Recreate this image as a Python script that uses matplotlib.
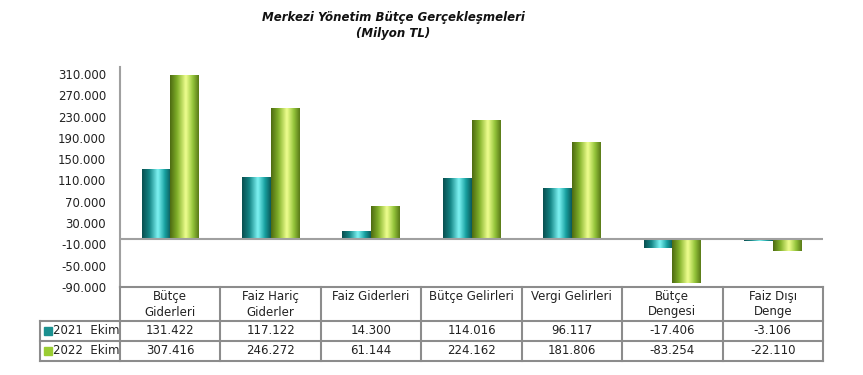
import matplotlib
matplotlib.use("Agg")
import matplotlib.pyplot as plt
import numpy as np
from matplotlib.colors import LinearSegmentedColormap

categories = ["Bütçe\nGiderleri", "Faiz Hariç\nGiderler", "Faiz Giderleri", "Bütçe Gelirleri",
              "Vergi Gelirleri", "Bütçe\nDengesi", "Faiz Dışı\nDenge"]
series_names = ["2021  Ekim", "2022  Ekim"]
values_2021 = [131422, 117122, 14300, 114016, 96117, -17406, -3106]
values_2022 = [307416, 246272, 61144, 224162, 181806, -83254, -22110]
ticks = [310000, 270000, 230000, 190000, 150000, 110000, 70000, 30000, -10000, -50000, -90000]

plt.rcParams['font.family'] = ['DejaVu Sans']

def fmt(v):
    s = f"{abs(v):,}".replace(",", ".")
    return ("-" if v < 0 else "") + s

fig = plt.figure(figsize=(8.63, 3.75), dpi=100)
L, R, B, T = 120/863, 823/863, 1 - 287/375, 1 - 67/375
ax = fig.add_axes([L, B, R - L, T - B])

n = len(categories)
x = np.arange(n)
w = 0.285
off = 0.143
base_cols = ["#1a8f8f", "#8cbf2a"]
cmaps = [
    LinearSegmentedColormap.from_list("t", [(0, "#0a4f50"), (0.25, "#138585"), (0.55, "#7ff4f4"), (0.8, "#17a0a0"), (1, "#0c5a5a")]),
    LinearSegmentedColormap.from_list("g", [(0, "#4e6b12"), (0.25, "#82b12a"), (0.55, "#f0ff90"), (0.8, "#93c43a"), (1, "#5a7a18")]),
]
ymin, ymax = -90000, 323000
grad = np.linspace(0, 1, 64).reshape(1, -1)
for si, vals in enumerate([values_2021, values_2022]):
    bars = ax.bar(x + (2*si - 1)*off, vals, width=w, color=base_cols[si], zorder=2, linewidth=0)
    for b in bars:
        x0, y0 = b.get_x(), b.get_y()
        bw, bh = b.get_width(), b.get_height()
        im = ax.imshow(grad, cmap=cmaps[si], aspect='auto', extent=[x0, x0 + bw, y0, y0 + bh],
                       zorder=3, interpolation='bicubic')
        im.set_clip_path(b)

ax.set_xlim(-0.5, n - 0.5)
ax.set_ylim(ymin, ymax)
ax.axhline(0, color="#a0a0a0", lw=1.5, zorder=4)
for s in ["top", "right", "bottom"]:
    ax.spines[s].set_visible(False)
ax.spines["left"].set_color("#a0a0a0")
ax.spines["left"].set_linewidth(1.5)
ax.set_yticks(ticks)
ax.set_yticklabels([fmt(t) for t in ticks], fontsize=8.5, color="#222222")
ax.tick_params(axis='y', length=0, pad=10)
ax.set_xticks([])

# table
line_c = "#8c8c8c"
def px2fig(px, py):
    return px / 863, 1 - py / 375
col_edges = [120 + i * (823 - 120) / n for i in range(n + 1)]
row_y = [287, 320.5, 341, 361]
for i, yy in enumerate(row_y):
    xs = 120 if i == 0 else 40
    fx0, fy = px2fig(xs, yy)
    fx1, _ = px2fig(823, yy)
    fig.add_artist(plt.Line2D([fx0, fx1], [fy, fy], color=line_c, lw=1.5))
for xe in col_edges:
    fx, fy0 = px2fig(xe, 287)
    _, fy1 = px2fig(xe, 361)
    fig.add_artist(plt.Line2D([fx, fx], [fy0, fy1], color=line_c, lw=1.5))
fx, fy0 = px2fig(40, 320.5)
_, fy1 = px2fig(40, 361)
fig.add_artist(plt.Line2D([fx, fx], [fy0, fy1], color=line_c, lw=1.5))

for i, c in enumerate(categories):
    cx = (col_edges[i] + col_edges[i + 1]) / 2
    fxx, fyy = px2fig(cx, 290)
    fig.text(fxx, fyy, c, ha="center", va="top", fontsize=8.5, color="#222222", linespacing=1.25)
    for ri, vals in enumerate([values_2021, values_2022]):
        fxx, fyy = px2fig(cx, [331, 351][ri])
        fig.text(fxx, fyy, fmt(vals[i]), ha="center", va="center", fontsize=8.5, color="#222222")

leg_cols = ["#1a9090", "#9acd32"]
for ri, name in enumerate(series_names):
    yy = [331, 351][ri]
    fxx, fyy = px2fig(44, yy + 4)
    fig.add_artist(plt.Rectangle((fxx, fyy), 8/863, 8/375, color=leg_cols[ri], transform=fig.transFigure))
    fxx, fyy = px2fig(53, yy)
    fig.text(fxx, fyy, name, ha="left", va="center", fontsize=8.5, color="#222222")

tx, ty = px2fig(393, 17)
fig.text(tx, ty, "Merkezi Yönetim Bütçe Gerçekleşmeleri", ha="center", va="center",
         fontsize=8.5, fontweight="bold", fontstyle="italic", color="#111111")
tx, ty = px2fig(393, 33)
fig.text(tx, ty, "(Milyon TL)", ha="center", va="center",
         fontsize=8.5, fontweight="bold", fontstyle="italic", color="#111111")

fig.savefig("out.png", dpi=100)
